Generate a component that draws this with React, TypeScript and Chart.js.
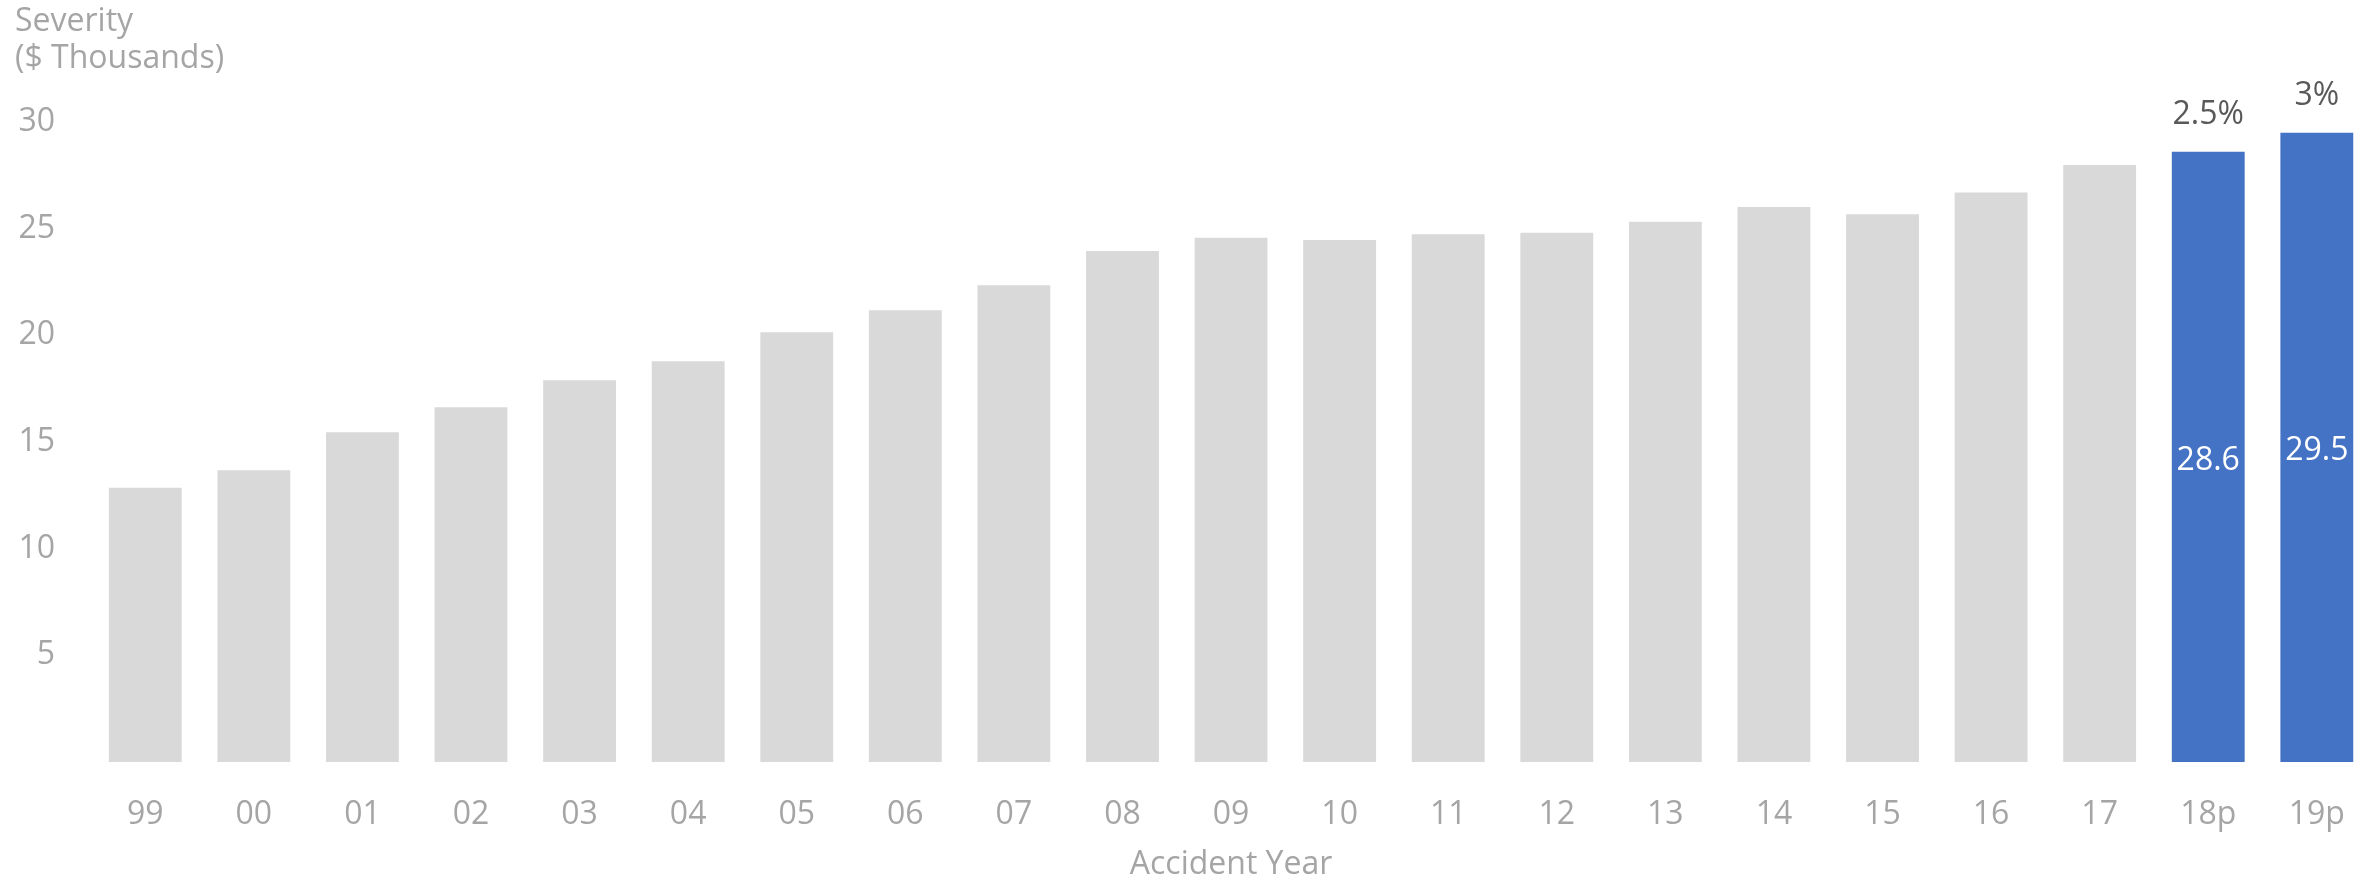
import React, { useEffect, useRef } from "react";
import { Chart, registerables } from "chart.js";

Chart.register(...registerables);

// Accident years (two-digit) with projected years marked "p"
const years = ["99", "00", "01", "02", "03", "04", "05", "06", "07", "08", "09", "10", "11", "12", "13", "14", "15", "16", "17", "18p", "19p"];
// Average claim severity, $ thousands
const severity = [12.85, 13.68, 15.46, 16.63, 17.9, 18.79, 20.14, 21.18, 22.35, 23.95, 24.58, 24.47, 24.74, 24.81, 25.32, 26.01, 25.67, 26.7, 27.98, 28.6, 29.5];
// Projected years are highlighted
const projected = [false, false, false, false, false, false, false, false, false, false, false, false, false, false, false, false, false, false, false, true, true];
// Growth rate shown above each projected bar
const growthLabels = ["", "", "", "", "", "", "", "", "", "", "", "", "", "", "", "", "", "", "", "2.5%", "3%"];
const yTicks = [5, 10, 15, 20, 25, 30];

const FONT = "'Open Sans', 'Noto Sans', sans-serif";
const GREY_TEXT = "#a5a5a5";
const BAR_GREY = "#d9d9d9";
const BAR_BLUE = "#4472c4";

const annotations = {
  id: "annotations",
  afterDatasetsDraw(chart: any) {
    const { ctx } = chart;
    const meta = chart.getDatasetMeta(0);
    ctx.save();
    ctx.font = `32px ${FONT}`;
    ctx.textAlign = "center";
    ctx.textBaseline = "alphabetic";
    meta.data.forEach((bar: any, i: number) => {
      if (!projected[i]) return;
      const mid = (bar.y + bar.base) / 2;
      ctx.fillStyle = "#ffffff";
      ctx.fillText(severity[i].toFixed(1), bar.x, mid + 13);
      if (growthLabels[i]) {
        ctx.fillStyle = "#595959";
        ctx.fillText(growthLabels[i], bar.x, bar.y - 28);
      }
    });
    // value-axis caption, set horizontally above the ticks
    ctx.textAlign = "left";
    ctx.fillStyle = GREY_TEXT;
    ctx.fillText("Severity", 15, 31);
    ctx.fillText("($ Thousands)", 15, 68);
    ctx.restore();
  },
};

export default function App() {
  const canvasRef = useRef<HTMLCanvasElement | null>(null);

  useEffect(() => {
    if (!canvasRef.current) return;
    const chart = new Chart(canvasRef.current, {
      type: "bar",
      data: {
        labels: years,
        datasets: [
          {
            data: severity,
            backgroundColor: projected.map((p) => (p ? BAR_BLUE : BAR_GREY)),
            borderWidth: 0,
            barPercentage: 0.671,
            categoryPercentage: 1,
          },
        ],
      },
      options: {
        responsive: false,
        animation: false,
        devicePixelRatio: 1,
        layout: { padding: { top: 122, right: 4, left: 0, bottom: 0 } },
        plugins: {
          legend: { display: false },
          tooltip: { enabled: false },
        },
        scales: {
          x: {
            grid: { display: false, drawTicks: false },
            border: { display: false },
            ticks: {
              color: GREY_TEXT,
              font: { family: FONT, size: 32 },
              padding: 34,
              maxRotation: 0,
              autoSkip: false,
            },
            title: {
              display: true,
              text: "Accident Year",
              color: GREY_TEXT,
              font: { family: FONT, size: 32 },
              padding: { top: 0, bottom: -5 },
            },
            afterFit: (scale: any) => {
              scale.height = 117;
            },
          },
          y: {
            min: 0,
            max: 30,
            grid: { display: false, drawTicks: false },
            border: { display: false },
            afterBuildTicks: (scale: any) => {
              scale.ticks = yTicks.map((v) => ({ value: v }));
            },
            ticks: {
              color: GREY_TEXT,
              font: { family: FONT, size: 32 },
              padding: 36,
            },
            afterFit: (scale: any) => {
              scale.width = 91;
            },
          },
        },
      },
      plugins: [annotations],
    });
    return () => chart.destroy();
  }, []);

  return (
    <div style={{ position: "fixed", left: 0, top: 0, width: 2379, height: 879, background: "#ffffff" }}>
      <canvas ref={canvasRef} width={2379} height={879} />
    </div>
  );
}
